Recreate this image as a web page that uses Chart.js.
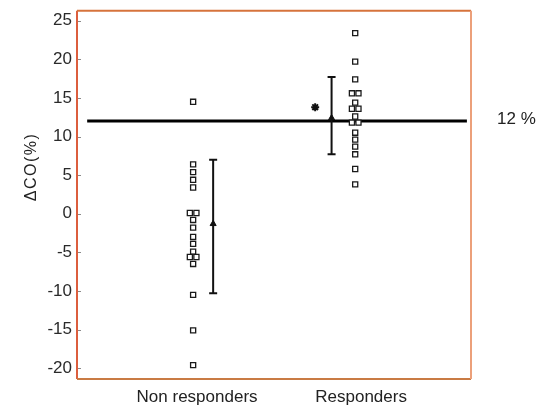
<!DOCTYPE html>
<html>
<head>
<meta charset="utf-8">
<script src="https://cdn.jsdelivr.net/npm/chart.js@4/dist/chart.umd.min.js"></script>
<style>
  html, body { margin: 0; padding: 0; background: #ffffff; }
  #wrap { width: 546px; height: 409px; }
</style>
</head>
<body>
<div id="wrap"><canvas id="c" width="546" height="409"></canvas></div>
<script>
// Group names and their positions on the x axis
const categories = ['Non responders', 'Responders'];
const categoryPos = [1, 2];

// Individual ΔCO values (%) per group, with small side offsets for overlapping points
const nonResponders = [14.5, 6.4, 5.4, 4.4, 3.4, 0.1, 0.1, -0.8, -1.8, -3.0, -3.9, -4.9, -5.6, -5.6, -6.5, -10.5, -15.1, -19.6];
const nonOffsets    = [0, 0, 0, 0, 0, -0.02, 0.02, 0, 0, 0, 0, 0, -0.02, 0.02, 0, 0, 0, 0];
const responders    = [23.4, 19.7, 17.4, 15.6, 15.6, 14.4, 13.6, 13.6, 12.6, 11.8, 11.8, 10.5, 9.6, 8.7, 7.7, 5.8, 3.8];
const respOffsets   = [0, 0, 0, -0.02, 0.02, 0, -0.02, 0.02, 0, -0.02, 0.02, 0, 0, 0, 0, 0, 0];

// Group summaries: mean with lower / upper error bar ends
const groupMean = [-1.3, 12.4];
const groupLow  = [-10.3, 7.7];
const groupHigh = [7.0, 17.7];

// Threshold and significance marker
const threshold = 12;
const thresholdLabel = '12 %';
const starValue = 13.8;

// Y axis ticks
const yTickStep = 5;
const yMin = -21.4, yMax = 26.3;

const FONT = '"Liberation Sans", Arial, sans-serif';

const pointShift = -0.024;  // dots sit just left of the group position
const barShift = 0.098;     // non responders bar sits right of its dots
const respBarShift = -0.18; // responders bar sits left of its dots

const ptsNon = nonResponders.map((v, i) => ({x: categoryPos[0] + pointShift + nonOffsets[i], y: v}));
const ptsResp = responders.map((v, i) => ({x: categoryPos[1] + pointShift * 1.5 + respOffsets[i], y: v}));

const barX = [categoryPos[0] + barShift, categoryPos[1] + respBarShift];

function errorBar(i) {
  return {
    type: 'line',
    data: [{x: barX[i], y: groupLow[i]}, {x: barX[i], y: groupHigh[i]}],
    borderColor: '#111', borderWidth: 2,
    pointStyle: 'line', pointRadius: 4, pointBorderWidth: 2,
    pointBorderColor: '#111', showLine: true, order: 2
  };
}
function meanMark(i) {
  return {
    type: 'scatter',
    data: [{x: barX[i], y: groupMean[i]}],
    pointStyle: 'triangle', pointRadius: 3.5,
    backgroundColor: '#111', borderColor: '#111', order: 1
  };
}

const frame = {
  id: 'frame',
  afterDraw(chart) {
    const {ctx, chartArea: a, scales: {y}} = chart;
    ctx.save();
    // inner tick marks on the left axis
    ctx.strokeStyle = '#8a8a8a';
    ctx.lineWidth = 1;
    y.ticks.forEach(t => {
      const py = Math.round(y.getPixelForValue(t.value)) + 0.5;
      ctx.beginPath(); ctx.moveTo(a.left, py); ctx.lineTo(a.left + 4, py); ctx.stroke();
    });
    // box edges
    ctx.lineWidth = 2;
    ctx.strokeStyle = '#dc5e3e';
    ctx.beginPath(); ctx.moveTo(a.left, a.top); ctx.lineTo(a.left, a.bottom); ctx.stroke();
    ctx.strokeStyle = '#d6733c';
    ctx.beginPath(); ctx.moveTo(a.left, a.top); ctx.lineTo(a.right, a.top); ctx.stroke();
    ctx.strokeStyle = '#c97b44';
    ctx.beginPath(); ctx.moveTo(a.left, a.bottom); ctx.lineTo(a.right, a.bottom); ctx.stroke();
    ctx.strokeStyle = '#eca07a';
    ctx.beginPath(); ctx.moveTo(a.right, a.top); ctx.lineTo(a.right, a.bottom); ctx.stroke();
    // threshold label
    ctx.fillStyle = '#222';
    ctx.font = '17px ' + FONT;
    ctx.textBaseline = 'middle';
    ctx.textAlign = 'left';
    ctx.fillText(thresholdLabel, 497, y.getPixelForValue(threshold) - 2);
    // y axis title
    ctx.translate(32, 167);
    ctx.rotate(-Math.PI / 2);
    ctx.textAlign = 'center';
    ctx.font = '16px ' + FONT;
    ctx.letterSpacing = '1.5px';
    ctx.fillText('ΔCO(%)', 0, 0);
    ctx.restore();
  }
};

const squareStyle = {
  type: 'scatter',
  pointStyle: 'rect', pointRadius: 3.6, pointBorderWidth: 1.3,
  borderColor: '#1a1a1a', backgroundColor: '#ffffff', order: 0
};

new Chart(document.getElementById('c'), {
  type: 'scatter',
  data: {
    datasets: [
      {
        type: 'line',
        data: [{x: 0.33, y: threshold}, {x: 2.645, y: threshold}],
        borderColor: '#000', borderWidth: 3, pointRadius: 0, order: 3
      },
      Object.assign({data: ptsNon}, squareStyle),
      Object.assign({data: ptsResp}, squareStyle),
      errorBar(0), errorBar(1), meanMark(0), meanMark(1),
      {
        type: 'scatter',
        data: [{x: 1.72, y: starValue}],
        pointStyle: 'star', pointRadius: 4, pointBorderWidth: 2,
        borderColor: '#111', backgroundColor: '#111', order: 1
      }
    ]
  },
  options: {
    responsive: false,
    animation: false,
    layout: { padding: { top: 10.7, right: 75, bottom: 0, left: 0 } },
    plugins: { legend: { display: false }, tooltip: { enabled: false } },
    scales: {
      x: {
        type: 'linear', min: 0.268, max: 2.67,
        grid: { display: false, drawTicks: false },
        border: { display: false },
        afterBuildTicks: s => { s.ticks = categoryPos.map(v => ({value: v})); },
        afterFit: s => { s.height = 30; s.paddingLeft = 0; s.paddingRight = 0; },
        ticks: {
          padding: 8,
          color: '#222',
          font: { family: FONT, size: 17 },
          callback: v => categories[categoryPos.indexOf(v)] || ''
        }
      },
      y: {
        min: yMin, max: yMax,
        grid: { display: false, drawTicks: false },
        border: { display: false },
        afterFit: s => { s.width = 77; s.paddingTop = 0; s.paddingBottom = 0; },
        ticks: {
          stepSize: yTickStep, includeBounds: false,
          padding: 5, color: '#2a2a2a',
          font: { family: FONT, size: 17 }
        }
      }
    }
  },
  plugins: [frame]
});
</script>
</body>
</html>
